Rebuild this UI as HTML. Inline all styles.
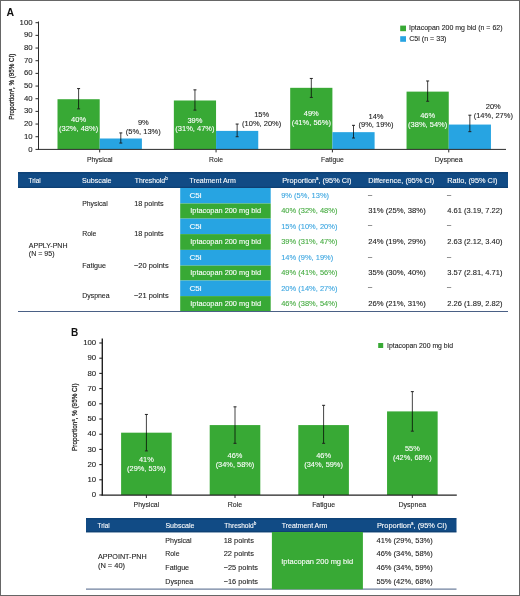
<!DOCTYPE html>
<html><head><meta charset="utf-8"><style>
html,body{margin:0;padding:0;background:#fff;}
svg{display:block;will-change:transform;font-family:"Liberation Sans",sans-serif;}
</style></head><body>
<svg width="520" height="596" viewBox="0 0 520 596">
<rect x="0.5" y="0.5" width="519" height="595" fill="#fff" stroke="#666" stroke-width="1"/>
<text x="6.4" y="15.5" font-size="10.5" font-weight="bold" fill="#111">A</text>
<line x1="35.50" y1="149.40" x2="38.50" y2="149.40" stroke="#2b2b2b" stroke-width="1"/>
<text x="32.60" y="151.50" font-size="7.8" fill="#222222" stroke="#222222" stroke-width="0.1" text-anchor="end" textLength="4.34" lengthAdjust="spacingAndGlyphs" >0</text>
<line x1="35.50" y1="136.73" x2="38.50" y2="136.73" stroke="#2b2b2b" stroke-width="1"/>
<text x="32.60" y="138.83" font-size="7.8" fill="#222222" stroke="#222222" stroke-width="0.1" text-anchor="end" textLength="8.68" lengthAdjust="spacingAndGlyphs" >10</text>
<line x1="35.50" y1="124.06" x2="38.50" y2="124.06" stroke="#2b2b2b" stroke-width="1"/>
<text x="32.60" y="126.16" font-size="7.8" fill="#222222" stroke="#222222" stroke-width="0.1" text-anchor="end" textLength="8.68" lengthAdjust="spacingAndGlyphs" >20</text>
<line x1="35.50" y1="111.39" x2="38.50" y2="111.39" stroke="#2b2b2b" stroke-width="1"/>
<text x="32.60" y="113.49" font-size="7.8" fill="#222222" stroke="#222222" stroke-width="0.1" text-anchor="end" textLength="8.68" lengthAdjust="spacingAndGlyphs" >30</text>
<line x1="35.50" y1="98.72" x2="38.50" y2="98.72" stroke="#2b2b2b" stroke-width="1"/>
<text x="32.60" y="100.82" font-size="7.8" fill="#222222" stroke="#222222" stroke-width="0.1" text-anchor="end" textLength="8.68" lengthAdjust="spacingAndGlyphs" >40</text>
<line x1="35.50" y1="86.05" x2="38.50" y2="86.05" stroke="#2b2b2b" stroke-width="1"/>
<text x="32.60" y="88.15" font-size="7.8" fill="#222222" stroke="#222222" stroke-width="0.1" text-anchor="end" textLength="8.68" lengthAdjust="spacingAndGlyphs" >50</text>
<line x1="35.50" y1="73.38" x2="38.50" y2="73.38" stroke="#2b2b2b" stroke-width="1"/>
<text x="32.60" y="75.48" font-size="7.8" fill="#222222" stroke="#222222" stroke-width="0.1" text-anchor="end" textLength="8.68" lengthAdjust="spacingAndGlyphs" >60</text>
<line x1="35.50" y1="60.71" x2="38.50" y2="60.71" stroke="#2b2b2b" stroke-width="1"/>
<text x="32.60" y="62.81" font-size="7.8" fill="#222222" stroke="#222222" stroke-width="0.1" text-anchor="end" textLength="8.68" lengthAdjust="spacingAndGlyphs" >70</text>
<line x1="35.50" y1="48.04" x2="38.50" y2="48.04" stroke="#2b2b2b" stroke-width="1"/>
<text x="32.60" y="50.14" font-size="7.8" fill="#222222" stroke="#222222" stroke-width="0.1" text-anchor="end" textLength="8.68" lengthAdjust="spacingAndGlyphs" >80</text>
<line x1="35.50" y1="35.37" x2="38.50" y2="35.37" stroke="#2b2b2b" stroke-width="1"/>
<text x="32.60" y="37.47" font-size="7.8" fill="#222222" stroke="#222222" stroke-width="0.1" text-anchor="end" textLength="8.68" lengthAdjust="spacingAndGlyphs" >90</text>
<line x1="35.50" y1="22.70" x2="38.50" y2="22.70" stroke="#2b2b2b" stroke-width="1"/>
<text x="32.60" y="24.80" font-size="7.8" fill="#222222" stroke="#222222" stroke-width="0.1" text-anchor="end" textLength="13.01" lengthAdjust="spacingAndGlyphs" >100</text>
<rect x="57.50" y="99.22" width="42.20" height="50.18" fill="#38a935"/>
<rect x="99.70" y="138.50" width="42.20" height="10.90" fill="#27a4e2"/>
<line x1="99.70" y1="149.40" x2="99.70" y2="152.40" stroke="#2b2b2b" stroke-width="1"/>
<text x="99.70" y="161.80" font-size="7.8" fill="#222222" stroke="#222222" stroke-width="0.1" text-anchor="middle" textLength="25.60" lengthAdjust="spacingAndGlyphs" >Physical</text>
<line x1="78.60" y1="88.58" x2="78.60" y2="108.86" stroke="rgba(0,0,0,0.78)" stroke-width="0.95"/>
<line x1="77.10" y1="88.58" x2="80.10" y2="88.58" stroke="#222" stroke-width="1"/>
<line x1="77.10" y1="108.86" x2="80.10" y2="108.86" stroke="#222" stroke-width="1"/>
<line x1="120.80" y1="132.93" x2="120.80" y2="143.06" stroke="rgba(0,0,0,0.78)" stroke-width="0.95"/>
<line x1="119.30" y1="132.93" x2="122.30" y2="132.93" stroke="#222" stroke-width="1"/>
<line x1="119.30" y1="143.06" x2="122.30" y2="143.06" stroke="#222" stroke-width="1"/>
<text x="78.60" y="122.00" font-size="7.5" fill="#fff" stroke="#fff" stroke-width="0.1" text-anchor="middle" textLength="15.01" lengthAdjust="spacingAndGlyphs" >40%</text>
<text x="78.60" y="130.80" font-size="7.5" fill="#fff" stroke="#fff" stroke-width="0.1" text-anchor="middle" textLength="39.18" lengthAdjust="spacingAndGlyphs" >(32%, 48%)</text>
<rect x="173.85" y="100.49" width="42.20" height="48.91" fill="#38a935"/>
<rect x="216.05" y="130.90" width="42.20" height="18.50" fill="#27a4e2"/>
<line x1="216.05" y1="149.40" x2="216.05" y2="152.40" stroke="#2b2b2b" stroke-width="1"/>
<text x="216.05" y="161.80" font-size="7.8" fill="#222222" stroke="#222222" stroke-width="0.1" text-anchor="middle" textLength="13.90" lengthAdjust="spacingAndGlyphs" >Role</text>
<line x1="194.95" y1="89.85" x2="194.95" y2="110.12" stroke="rgba(0,0,0,0.78)" stroke-width="0.95"/>
<line x1="193.45" y1="89.85" x2="196.45" y2="89.85" stroke="#222" stroke-width="1"/>
<line x1="193.45" y1="110.12" x2="196.45" y2="110.12" stroke="#222" stroke-width="1"/>
<line x1="237.15" y1="124.06" x2="237.15" y2="136.73" stroke="rgba(0,0,0,0.78)" stroke-width="0.95"/>
<line x1="235.65" y1="124.06" x2="238.65" y2="124.06" stroke="#222" stroke-width="1"/>
<line x1="235.65" y1="136.73" x2="238.65" y2="136.73" stroke="#222" stroke-width="1"/>
<text x="194.95" y="122.63" font-size="7.5" fill="#fff" stroke="#fff" stroke-width="0.1" text-anchor="middle" textLength="15.01" lengthAdjust="spacingAndGlyphs" >39%</text>
<text x="194.95" y="131.43" font-size="7.5" fill="#fff" stroke="#fff" stroke-width="0.1" text-anchor="middle" textLength="39.18" lengthAdjust="spacingAndGlyphs" >(31%, 47%)</text>
<rect x="290.20" y="87.82" width="42.20" height="61.58" fill="#38a935"/>
<rect x="332.40" y="132.16" width="42.20" height="17.24" fill="#27a4e2"/>
<line x1="332.40" y1="149.40" x2="332.40" y2="152.40" stroke="#2b2b2b" stroke-width="1"/>
<text x="332.40" y="161.80" font-size="7.8" fill="#222222" stroke="#222222" stroke-width="0.1" text-anchor="middle" textLength="22.70" lengthAdjust="spacingAndGlyphs" >Fatigue</text>
<line x1="311.30" y1="78.45" x2="311.30" y2="97.45" stroke="rgba(0,0,0,0.78)" stroke-width="0.95"/>
<line x1="309.80" y1="78.45" x2="312.80" y2="78.45" stroke="#222" stroke-width="1"/>
<line x1="309.80" y1="97.45" x2="312.80" y2="97.45" stroke="#222" stroke-width="1"/>
<line x1="353.50" y1="125.33" x2="353.50" y2="138.00" stroke="rgba(0,0,0,0.78)" stroke-width="0.95"/>
<line x1="352.00" y1="125.33" x2="355.00" y2="125.33" stroke="#222" stroke-width="1"/>
<line x1="352.00" y1="138.00" x2="355.00" y2="138.00" stroke="#222" stroke-width="1"/>
<text x="311.30" y="116.30" font-size="7.5" fill="#fff" stroke="#fff" stroke-width="0.1" text-anchor="middle" textLength="15.01" lengthAdjust="spacingAndGlyphs" >49%</text>
<text x="311.30" y="125.10" font-size="7.5" fill="#fff" stroke="#fff" stroke-width="0.1" text-anchor="middle" textLength="39.18" lengthAdjust="spacingAndGlyphs" >(41%, 56%)</text>
<rect x="406.55" y="91.62" width="42.20" height="57.78" fill="#38a935"/>
<rect x="448.75" y="124.56" width="42.20" height="24.84" fill="#27a4e2"/>
<line x1="448.75" y1="149.40" x2="448.75" y2="152.40" stroke="#2b2b2b" stroke-width="1"/>
<text x="448.75" y="161.80" font-size="7.8" fill="#222222" stroke="#222222" stroke-width="0.1" text-anchor="middle" textLength="28.10" lengthAdjust="spacingAndGlyphs" >Dyspnea</text>
<line x1="427.65" y1="80.98" x2="427.65" y2="101.25" stroke="rgba(0,0,0,0.78)" stroke-width="0.95"/>
<line x1="426.15" y1="80.98" x2="429.15" y2="80.98" stroke="#222" stroke-width="1"/>
<line x1="426.15" y1="101.25" x2="429.15" y2="101.25" stroke="#222" stroke-width="1"/>
<line x1="469.85" y1="115.19" x2="469.85" y2="131.66" stroke="rgba(0,0,0,0.78)" stroke-width="0.95"/>
<line x1="468.35" y1="115.19" x2="471.35" y2="115.19" stroke="#222" stroke-width="1"/>
<line x1="468.35" y1="131.66" x2="471.35" y2="131.66" stroke="#222" stroke-width="1"/>
<text x="427.65" y="118.20" font-size="7.5" fill="#fff" stroke="#fff" stroke-width="0.1" text-anchor="middle" textLength="15.01" lengthAdjust="spacingAndGlyphs" >46%</text>
<text x="427.65" y="127.00" font-size="7.5" fill="#fff" stroke="#fff" stroke-width="0.1" text-anchor="middle" textLength="39.18" lengthAdjust="spacingAndGlyphs" >(38%, 54%)</text>
<line x1="38.00" y1="149.40" x2="506.00" y2="149.40" stroke="#2b2b2b" stroke-width="1"/>
<line x1="38.50" y1="21.50" x2="38.50" y2="149.90" stroke="#2b2b2b" stroke-width="1"/>
<text x="143.30" y="125.14" font-size="7.5" fill="#222222" stroke="#222222" stroke-width="0.1" text-anchor="middle" textLength="10.84" lengthAdjust="spacingAndGlyphs" >9%</text>
<text x="143.30" y="133.84" font-size="7.5" fill="#222222" stroke="#222222" stroke-width="0.1" text-anchor="middle" textLength="35.01" lengthAdjust="spacingAndGlyphs" >(5%, 13%)</text>
<text x="261.70" y="116.54" font-size="7.5" fill="#222222" stroke="#222222" stroke-width="0.1" text-anchor="middle" textLength="15.01" lengthAdjust="spacingAndGlyphs" >15%</text>
<text x="261.70" y="125.54" font-size="7.5" fill="#222222" stroke="#222222" stroke-width="0.1" text-anchor="middle" textLength="39.18" lengthAdjust="spacingAndGlyphs" >(10%, 20%)</text>
<text x="376.00" y="118.54" font-size="7.5" fill="#222222" stroke="#222222" stroke-width="0.1" text-anchor="middle" textLength="15.01" lengthAdjust="spacingAndGlyphs" >14%</text>
<text x="376.00" y="127.44" font-size="7.5" fill="#222222" stroke="#222222" stroke-width="0.1" text-anchor="middle" textLength="35.01" lengthAdjust="spacingAndGlyphs" >(9%, 19%)</text>
<text x="493.30" y="108.94" font-size="7.5" fill="#222222" stroke="#222222" stroke-width="0.1" text-anchor="middle" textLength="15.01" lengthAdjust="spacingAndGlyphs" >20%</text>
<text x="493.30" y="118.14" font-size="7.5" fill="#222222" stroke="#222222" stroke-width="0.1" text-anchor="middle" textLength="39.18" lengthAdjust="spacingAndGlyphs" >(14%, 27%)</text>
<text transform="translate(14.1,86.7) rotate(-90)" font-size="7.7" fill="#222222" stroke="#222222" stroke-width="0.25" text-anchor="middle" textLength="66" lengthAdjust="spacingAndGlyphs">Proportion<tspan font-size="4.6" dy="-2.6">a</tspan><tspan dy="2.6">, % (95% CI)</tspan></text>
<rect x="400.20" y="25.60" width="5.80" height="5.60" fill="#38a935"/>
<rect x="400.20" y="36.20" width="5.80" height="5.60" fill="#27a4e2"/>
<text x="409.00" y="29.80" font-size="7.8" fill="#222222" stroke="#222222" stroke-width="0.1" textLength="93.50" lengthAdjust="spacingAndGlyphs" >Iptacopan 200 mg bid (n = 62)</text>
<text x="409.20" y="40.50" font-size="7.8" fill="#222222" stroke="#222222" stroke-width="0.1" textLength="37.30" lengthAdjust="spacingAndGlyphs" >C5i (n = 33)</text>
<rect x="18.00" y="172.00" width="490.00" height="16.00" fill="#114b85"/>
<line x1="18.00" y1="172.90" x2="508.00" y2="172.90" stroke="rgba(5,30,60,0.3)" stroke-width="1"/>
<line x1="18.00" y1="187.30" x2="508.00" y2="187.30" stroke="rgba(5,30,60,0.3)" stroke-width="1"/>
<text x="28.50" y="182.80" font-size="7.8" fill="#fff" stroke="#fff" stroke-width="0.1" textLength="12.10" lengthAdjust="spacingAndGlyphs" >Trial</text>
<text x="82.00" y="182.80" font-size="7.8" fill="#fff" stroke="#fff" stroke-width="0.1" textLength="29.50" lengthAdjust="spacingAndGlyphs" >Subscale</text>
<text x="134.7" y="182.8" font-size="7.8" fill="#fff" stroke="#fff" stroke-width="0.1"><tspan textLength="30.5" lengthAdjust="spacingAndGlyphs">Threshold</tspan><tspan font-size="4.6" dy="-2.6">b</tspan></text>
<text x="189.60" y="182.80" font-size="7.8" fill="#fff" stroke="#fff" stroke-width="0.1" textLength="46.20" lengthAdjust="spacingAndGlyphs" >Treatment Arm</text>
<text x="282.2" y="182.8" font-size="7.8" fill="#fff" stroke="#fff" stroke-width="0.1" textLength="69.3" lengthAdjust="spacingAndGlyphs">Proportion<tspan font-size="4.6" dy="-2.6">a</tspan><tspan dy="2.6">, (95% CI)</tspan></text>
<text x="368.20" y="182.80" font-size="7.8" fill="#fff" stroke="#fff" stroke-width="0.1" textLength="66.00" lengthAdjust="spacingAndGlyphs" >Difference, (95% CI)</text>
<text x="447.20" y="182.80" font-size="7.8" fill="#fff" stroke="#fff" stroke-width="0.1" textLength="50.20" lengthAdjust="spacingAndGlyphs" >Ratio, (95% CI)</text>
<rect x="180.20" y="188.00" width="90.50" height="15.50" fill="#27a4e2"/>
<rect x="180.20" y="203.50" width="90.50" height="15.10" fill="#38a935"/>
<text x="189.40" y="198.09" font-size="7.8" fill="#fff" stroke="#fff" stroke-width="0.1" textLength="12.20" lengthAdjust="spacingAndGlyphs" >C5i</text>
<text x="190.30" y="213.39" font-size="7.8" fill="#fff" stroke="#fff" stroke-width="0.1" textLength="70.80" lengthAdjust="spacingAndGlyphs" >Iptacopan 200 mg bid</text>
<text x="281.20" y="198.09" font-size="7.8" fill="#3aa5e0" stroke="#3aa5e0" stroke-width="0.1" textLength="47.86" lengthAdjust="spacingAndGlyphs" >9% (5%, 13%)</text>
<text x="281.20" y="213.39" font-size="7.8" fill="#45ab40" stroke="#45ab40" stroke-width="0.1" textLength="56.19" lengthAdjust="spacingAndGlyphs" >40% (32%, 48%)</text>
<rect x="180.20" y="218.60" width="90.50" height="15.50" fill="#27a4e2"/>
<rect x="180.20" y="234.10" width="90.50" height="15.80" fill="#38a935"/>
<text x="189.40" y="228.69" font-size="7.8" fill="#fff" stroke="#fff" stroke-width="0.1" textLength="12.20" lengthAdjust="spacingAndGlyphs" >C5i</text>
<text x="190.30" y="244.34" font-size="7.8" fill="#fff" stroke="#fff" stroke-width="0.1" textLength="70.80" lengthAdjust="spacingAndGlyphs" >Iptacopan 200 mg bid</text>
<text x="281.20" y="228.69" font-size="7.8" fill="#3aa5e0" stroke="#3aa5e0" stroke-width="0.1" textLength="56.19" lengthAdjust="spacingAndGlyphs" >15% (10%, 20%)</text>
<text x="281.20" y="244.34" font-size="7.8" fill="#45ab40" stroke="#45ab40" stroke-width="0.1" textLength="56.19" lengthAdjust="spacingAndGlyphs" >39% (31%, 47%)</text>
<rect x="180.20" y="249.90" width="90.50" height="15.70" fill="#27a4e2"/>
<rect x="180.20" y="265.60" width="90.50" height="14.90" fill="#38a935"/>
<text x="189.40" y="260.09" font-size="7.8" fill="#fff" stroke="#fff" stroke-width="0.1" textLength="12.20" lengthAdjust="spacingAndGlyphs" >C5i</text>
<text x="190.30" y="275.39" font-size="7.8" fill="#fff" stroke="#fff" stroke-width="0.1" textLength="70.80" lengthAdjust="spacingAndGlyphs" >Iptacopan 200 mg bid</text>
<text x="281.20" y="260.09" font-size="7.8" fill="#3aa5e0" stroke="#3aa5e0" stroke-width="0.1" textLength="52.02" lengthAdjust="spacingAndGlyphs" >14% (9%, 19%)</text>
<text x="281.20" y="275.39" font-size="7.8" fill="#45ab40" stroke="#45ab40" stroke-width="0.1" textLength="56.19" lengthAdjust="spacingAndGlyphs" >49% (41%, 56%)</text>
<rect x="180.20" y="280.50" width="90.50" height="15.60" fill="#27a4e2"/>
<rect x="180.20" y="296.10" width="90.50" height="15.30" fill="#38a935"/>
<text x="189.40" y="290.64" font-size="7.8" fill="#fff" stroke="#fff" stroke-width="0.1" textLength="12.20" lengthAdjust="spacingAndGlyphs" >C5i</text>
<text x="190.30" y="306.09" font-size="7.8" fill="#fff" stroke="#fff" stroke-width="0.1" textLength="70.80" lengthAdjust="spacingAndGlyphs" >Iptacopan 200 mg bid</text>
<text x="281.20" y="290.64" font-size="7.8" fill="#3aa5e0" stroke="#3aa5e0" stroke-width="0.1" textLength="56.19" lengthAdjust="spacingAndGlyphs" >20% (14%, 27%)</text>
<text x="281.20" y="306.09" font-size="7.8" fill="#45ab40" stroke="#45ab40" stroke-width="0.1" textLength="56.19" lengthAdjust="spacingAndGlyphs" >46% (38%, 54%)</text>
<text x="82.20" y="205.84" font-size="7.8" fill="#222222" stroke="#222222" stroke-width="0.1" textLength="25.50" lengthAdjust="spacingAndGlyphs" >Physical</text>
<text x="82.20" y="236.44" font-size="7.8" fill="#222222" stroke="#222222" stroke-width="0.1" textLength="14.20" lengthAdjust="spacingAndGlyphs" >Role</text>
<text x="82.20" y="267.94" font-size="7.8" fill="#222222" stroke="#222222" stroke-width="0.1" textLength="23.80" lengthAdjust="spacingAndGlyphs" >Fatigue</text>
<text x="82.20" y="298.44" font-size="7.8" fill="#222222" stroke="#222222" stroke-width="0.1" textLength="27.40" lengthAdjust="spacingAndGlyphs" >Dyspnea</text>
<text x="367.90" y="196.59" font-size="7.8" fill="#222222" stroke="#222222" stroke-width="0.1" textLength="4.12" lengthAdjust="spacingAndGlyphs" >&#8211;</text>
<text x="446.90" y="196.59" font-size="7.8" fill="#222222" stroke="#222222" stroke-width="0.1" textLength="4.12" lengthAdjust="spacingAndGlyphs" >&#8211;</text>
<text x="368.20" y="213.39" font-size="7.8" fill="#222222" stroke="#222222" stroke-width="0.1" textLength="57.50" lengthAdjust="spacingAndGlyphs" >31% (25%, 38%)</text>
<text x="447.20" y="213.39" font-size="7.8" fill="#222222" stroke="#222222" stroke-width="0.1" textLength="55.30" lengthAdjust="spacingAndGlyphs" >4.61 (3.19, 7.22)</text>
<text x="134.20" y="205.84" font-size="7.8" fill="#222222" stroke="#222222" stroke-width="0.1" textLength="29.50" lengthAdjust="spacingAndGlyphs" >18 points</text>
<text x="367.90" y="227.19" font-size="7.8" fill="#222222" stroke="#222222" stroke-width="0.1" textLength="4.12" lengthAdjust="spacingAndGlyphs" >&#8211;</text>
<text x="446.90" y="227.19" font-size="7.8" fill="#222222" stroke="#222222" stroke-width="0.1" textLength="4.12" lengthAdjust="spacingAndGlyphs" >&#8211;</text>
<text x="368.20" y="244.34" font-size="7.8" fill="#222222" stroke="#222222" stroke-width="0.1" textLength="57.50" lengthAdjust="spacingAndGlyphs" >24% (19%, 29%)</text>
<text x="447.20" y="244.34" font-size="7.8" fill="#222222" stroke="#222222" stroke-width="0.1" textLength="55.30" lengthAdjust="spacingAndGlyphs" >2.63 (2.12, 3.40)</text>
<text x="134.20" y="236.44" font-size="7.8" fill="#222222" stroke="#222222" stroke-width="0.1" textLength="29.50" lengthAdjust="spacingAndGlyphs" >18 points</text>
<text x="367.90" y="258.59" font-size="7.8" fill="#222222" stroke="#222222" stroke-width="0.1" textLength="4.12" lengthAdjust="spacingAndGlyphs" >&#8211;</text>
<text x="446.90" y="258.59" font-size="7.8" fill="#222222" stroke="#222222" stroke-width="0.1" textLength="4.12" lengthAdjust="spacingAndGlyphs" >&#8211;</text>
<text x="368.20" y="275.39" font-size="7.8" fill="#222222" stroke="#222222" stroke-width="0.1" textLength="57.50" lengthAdjust="spacingAndGlyphs" >35% (30%, 40%)</text>
<text x="447.20" y="275.39" font-size="7.8" fill="#222222" stroke="#222222" stroke-width="0.1" textLength="55.30" lengthAdjust="spacingAndGlyphs" >3.57 (2.81, 4.71)</text>
<text x="133.90" y="267.94" font-size="7.8" fill="#222222" stroke="#222222" stroke-width="0.1" textLength="34.80" lengthAdjust="spacingAndGlyphs" >&#8722;20 points</text>
<text x="367.90" y="289.14" font-size="7.8" fill="#222222" stroke="#222222" stroke-width="0.1" textLength="4.12" lengthAdjust="spacingAndGlyphs" >&#8211;</text>
<text x="446.90" y="289.14" font-size="7.8" fill="#222222" stroke="#222222" stroke-width="0.1" textLength="4.12" lengthAdjust="spacingAndGlyphs" >&#8211;</text>
<text x="368.20" y="306.09" font-size="7.8" fill="#222222" stroke="#222222" stroke-width="0.1" textLength="57.50" lengthAdjust="spacingAndGlyphs" >26% (21%, 31%)</text>
<text x="447.20" y="306.09" font-size="7.8" fill="#222222" stroke="#222222" stroke-width="0.1" textLength="55.30" lengthAdjust="spacingAndGlyphs" >2.26 (1.89, 2.82)</text>
<text x="133.90" y="298.44" font-size="7.8" fill="#222222" stroke="#222222" stroke-width="0.1" textLength="34.80" lengthAdjust="spacingAndGlyphs" >&#8722;21 points</text>
<text x="28.80" y="247.50" font-size="7.8" fill="#222222" stroke="#222222" stroke-width="0.1" textLength="38.70" lengthAdjust="spacingAndGlyphs" >APPLY-PNH</text>
<text x="28.80" y="256.30" font-size="7.8" fill="#222222" stroke="#222222" stroke-width="0.1" textLength="25.70" lengthAdjust="spacingAndGlyphs" >(N = 95)</text>
<line x1="18.00" y1="311.50" x2="508.00" y2="311.50" stroke="#4a6085" stroke-width="1"/>
<text x="70.9" y="335.9" font-size="10" font-weight="bold" fill="#111">B</text>
<line x1="99.30" y1="495.00" x2="102.30" y2="495.00" stroke="#222" stroke-width="1.1"/>
<text x="96.20" y="497.10" font-size="7.8" fill="#222222" stroke="#222222" stroke-width="0.1" text-anchor="end" textLength="4.34" lengthAdjust="spacingAndGlyphs" >0</text>
<line x1="99.30" y1="479.80" x2="102.30" y2="479.80" stroke="#222" stroke-width="1.1"/>
<text x="96.20" y="481.90" font-size="7.8" fill="#222222" stroke="#222222" stroke-width="0.1" text-anchor="end" textLength="8.68" lengthAdjust="spacingAndGlyphs" >10</text>
<line x1="99.30" y1="464.60" x2="102.30" y2="464.60" stroke="#222" stroke-width="1.1"/>
<text x="96.20" y="466.70" font-size="7.8" fill="#222222" stroke="#222222" stroke-width="0.1" text-anchor="end" textLength="8.68" lengthAdjust="spacingAndGlyphs" >20</text>
<line x1="99.30" y1="449.40" x2="102.30" y2="449.40" stroke="#222" stroke-width="1.1"/>
<text x="96.20" y="451.50" font-size="7.8" fill="#222222" stroke="#222222" stroke-width="0.1" text-anchor="end" textLength="8.68" lengthAdjust="spacingAndGlyphs" >30</text>
<line x1="99.30" y1="434.20" x2="102.30" y2="434.20" stroke="#222" stroke-width="1.1"/>
<text x="96.20" y="436.30" font-size="7.8" fill="#222222" stroke="#222222" stroke-width="0.1" text-anchor="end" textLength="8.68" lengthAdjust="spacingAndGlyphs" >40</text>
<line x1="99.30" y1="419.00" x2="102.30" y2="419.00" stroke="#222" stroke-width="1.1"/>
<text x="96.20" y="421.10" font-size="7.8" fill="#222222" stroke="#222222" stroke-width="0.1" text-anchor="end" textLength="8.68" lengthAdjust="spacingAndGlyphs" >50</text>
<line x1="99.30" y1="403.80" x2="102.30" y2="403.80" stroke="#222" stroke-width="1.1"/>
<text x="96.20" y="405.90" font-size="7.8" fill="#222222" stroke="#222222" stroke-width="0.1" text-anchor="end" textLength="8.68" lengthAdjust="spacingAndGlyphs" >60</text>
<line x1="99.30" y1="388.60" x2="102.30" y2="388.60" stroke="#222" stroke-width="1.1"/>
<text x="96.20" y="390.70" font-size="7.8" fill="#222222" stroke="#222222" stroke-width="0.1" text-anchor="end" textLength="8.68" lengthAdjust="spacingAndGlyphs" >70</text>
<line x1="99.30" y1="373.40" x2="102.30" y2="373.40" stroke="#222" stroke-width="1.1"/>
<text x="96.20" y="375.50" font-size="7.8" fill="#222222" stroke="#222222" stroke-width="0.1" text-anchor="end" textLength="8.68" lengthAdjust="spacingAndGlyphs" >80</text>
<line x1="99.30" y1="358.20" x2="102.30" y2="358.20" stroke="#222" stroke-width="1.1"/>
<text x="96.20" y="360.30" font-size="7.8" fill="#222222" stroke="#222222" stroke-width="0.1" text-anchor="end" textLength="8.68" lengthAdjust="spacingAndGlyphs" >90</text>
<line x1="99.30" y1="343.00" x2="102.30" y2="343.00" stroke="#222" stroke-width="1.1"/>
<text x="96.20" y="345.10" font-size="7.8" fill="#222222" stroke="#222222" stroke-width="0.1" text-anchor="end" textLength="13.01" lengthAdjust="spacingAndGlyphs" >100</text>
<rect x="121.10" y="432.68" width="50.60" height="62.32" fill="#38a935"/>
<line x1="146.40" y1="495.00" x2="146.40" y2="498.00" stroke="#2b2b2b" stroke-width="1"/>
<text x="146.40" y="506.90" font-size="7.8" fill="#222222" stroke="#222222" stroke-width="0.1" text-anchor="middle" textLength="25.60" lengthAdjust="spacingAndGlyphs" >Physical</text>
<line x1="146.40" y1="414.44" x2="146.40" y2="450.92" stroke="rgba(0,0,0,0.78)" stroke-width="0.95"/>
<line x1="144.90" y1="414.44" x2="147.90" y2="414.44" stroke="#222" stroke-width="1"/>
<line x1="144.90" y1="450.92" x2="147.90" y2="450.92" stroke="#222" stroke-width="1"/>
<text x="146.40" y="461.78" font-size="7.4" fill="#fff" stroke="#fff" stroke-width="0.1" text-anchor="middle" textLength="14.81" lengthAdjust="spacingAndGlyphs" >41%</text>
<text x="146.40" y="470.58" font-size="7.4" fill="#fff" stroke="#fff" stroke-width="0.1" text-anchor="middle" textLength="38.66" lengthAdjust="spacingAndGlyphs" >(29%, 53%)</text>
<rect x="209.70" y="425.08" width="50.60" height="69.92" fill="#38a935"/>
<line x1="235.00" y1="495.00" x2="235.00" y2="498.00" stroke="#2b2b2b" stroke-width="1"/>
<text x="235.00" y="506.90" font-size="7.8" fill="#222222" stroke="#222222" stroke-width="0.1" text-anchor="middle" textLength="14.30" lengthAdjust="spacingAndGlyphs" >Role</text>
<line x1="235.00" y1="406.84" x2="235.00" y2="443.32" stroke="rgba(0,0,0,0.78)" stroke-width="0.95"/>
<line x1="233.50" y1="406.84" x2="236.50" y2="406.84" stroke="#222" stroke-width="1"/>
<line x1="233.50" y1="443.32" x2="236.50" y2="443.32" stroke="#222" stroke-width="1"/>
<text x="235.00" y="457.98" font-size="7.4" fill="#fff" stroke="#fff" stroke-width="0.1" text-anchor="middle" textLength="14.81" lengthAdjust="spacingAndGlyphs" >46%</text>
<text x="235.00" y="466.78" font-size="7.4" fill="#fff" stroke="#fff" stroke-width="0.1" text-anchor="middle" textLength="38.66" lengthAdjust="spacingAndGlyphs" >(34%, 58%)</text>
<rect x="298.30" y="425.08" width="50.60" height="69.92" fill="#38a935"/>
<line x1="323.60" y1="495.00" x2="323.60" y2="498.00" stroke="#2b2b2b" stroke-width="1"/>
<text x="323.60" y="506.90" font-size="7.8" fill="#222222" stroke="#222222" stroke-width="0.1" text-anchor="middle" textLength="22.90" lengthAdjust="spacingAndGlyphs" >Fatigue</text>
<line x1="323.60" y1="405.32" x2="323.60" y2="443.32" stroke="rgba(0,0,0,0.78)" stroke-width="0.95"/>
<line x1="322.10" y1="405.32" x2="325.10" y2="405.32" stroke="#222" stroke-width="1"/>
<line x1="322.10" y1="443.32" x2="325.10" y2="443.32" stroke="#222" stroke-width="1"/>
<text x="323.60" y="457.98" font-size="7.4" fill="#fff" stroke="#fff" stroke-width="0.1" text-anchor="middle" textLength="14.81" lengthAdjust="spacingAndGlyphs" >46%</text>
<text x="323.60" y="466.78" font-size="7.4" fill="#fff" stroke="#fff" stroke-width="0.1" text-anchor="middle" textLength="38.66" lengthAdjust="spacingAndGlyphs" >(34%, 59%)</text>
<rect x="387.05" y="411.40" width="50.60" height="83.60" fill="#38a935"/>
<line x1="412.35" y1="495.00" x2="412.35" y2="498.00" stroke="#2b2b2b" stroke-width="1"/>
<text x="412.35" y="506.90" font-size="7.8" fill="#222222" stroke="#222222" stroke-width="0.1" text-anchor="middle" textLength="27.90" lengthAdjust="spacingAndGlyphs" >Dyspnea</text>
<line x1="412.35" y1="391.64" x2="412.35" y2="431.16" stroke="rgba(0,0,0,0.78)" stroke-width="0.95"/>
<line x1="410.85" y1="391.64" x2="413.85" y2="391.64" stroke="#222" stroke-width="1"/>
<line x1="410.85" y1="431.16" x2="413.85" y2="431.16" stroke="#222" stroke-width="1"/>
<text x="412.35" y="451.14" font-size="7.4" fill="#fff" stroke="#fff" stroke-width="0.1" text-anchor="middle" textLength="14.81" lengthAdjust="spacingAndGlyphs" >55%</text>
<text x="412.35" y="459.94" font-size="7.4" fill="#fff" stroke="#fff" stroke-width="0.1" text-anchor="middle" textLength="38.66" lengthAdjust="spacingAndGlyphs" >(42%, 68%)</text>
<line x1="101.60" y1="495.10" x2="456.80" y2="495.10" stroke="#222" stroke-width="1.4"/>
<line x1="102.30" y1="338.50" x2="102.30" y2="495.60" stroke="#222" stroke-width="1.4"/>
<text transform="translate(77.3,417.2) rotate(-90)" font-size="7.6" fill="#222222" stroke="#222222" stroke-width="0.25" text-anchor="middle" textLength="67.5" lengthAdjust="spacingAndGlyphs">Proportion<tspan font-size="4.6" dy="-2.6">a</tspan><tspan dy="2.6">, % (95% CI)</tspan></text>
<rect x="378.20" y="343.00" width="5.00" height="5.00" fill="#38a935"/>
<text x="387.00" y="347.64" font-size="7.8" fill="#222222" stroke="#222222" stroke-width="0.1" textLength="66.00" lengthAdjust="spacingAndGlyphs" >Iptacopan 200 mg bid</text>
<rect x="86.00" y="518.00" width="370.50" height="14.40" fill="#114b85"/>
<line x1="86.00" y1="518.90" x2="456.50" y2="518.90" stroke="rgba(5,30,60,0.3)" stroke-width="1"/>
<line x1="86.00" y1="531.80" x2="456.50" y2="531.80" stroke="rgba(5,30,60,0.3)" stroke-width="1"/>
<text x="97.60" y="527.64" font-size="7.8" fill="#fff" stroke="#fff" stroke-width="0.1" textLength="12.00" lengthAdjust="spacingAndGlyphs" >Trial</text>
<text x="165.40" y="527.64" font-size="7.8" fill="#fff" stroke="#fff" stroke-width="0.1" textLength="29.10" lengthAdjust="spacingAndGlyphs" >Subscale</text>
<text x="224.3" y="527.64" font-size="7.8" fill="#fff" stroke="#fff" stroke-width="0.1"><tspan textLength="29.4" lengthAdjust="spacingAndGlyphs">Threshold</tspan><tspan font-size="4.6" dy="-2.6">b</tspan></text>
<text x="281.80" y="527.64" font-size="7.8" fill="#fff" stroke="#fff" stroke-width="0.1" textLength="45.50" lengthAdjust="spacingAndGlyphs" >Treatment Arm</text>
<text x="376.9" y="527.64" font-size="7.8" fill="#fff" stroke="#fff" stroke-width="0.1" textLength="70" lengthAdjust="spacingAndGlyphs">Proportion<tspan font-size="4.6" dy="-2.6">a</tspan><tspan dy="2.6">, (95% CI)</tspan></text>
<line x1="86.00" y1="589.10" x2="456.50" y2="589.10" stroke="#4a6085" stroke-width="1"/>
<rect x="271.90" y="532.00" width="91.00" height="57.30" fill="#38a935"/>
<text x="281.20" y="563.54" font-size="7.8" fill="#fff" stroke="#fff" stroke-width="0.1" textLength="71.90" lengthAdjust="spacingAndGlyphs" >Iptacopan 200 mg bid</text>
<text x="165.30" y="542.64" font-size="7.8" fill="#222222" stroke="#222222" stroke-width="0.1" textLength="26.30" lengthAdjust="spacingAndGlyphs" >Physical</text>
<text x="223.70" y="542.64" font-size="7.8" fill="#222222" stroke="#222222" stroke-width="0.1" textLength="30.20" lengthAdjust="spacingAndGlyphs" >18 points</text>
<text x="376.50" y="542.64" font-size="7.8" fill="#222222" stroke="#222222" stroke-width="0.1" textLength="56.30" lengthAdjust="spacingAndGlyphs" >41% (29%, 53%)</text>
<text x="165.30" y="556.14" font-size="7.8" fill="#222222" stroke="#222222" stroke-width="0.1" textLength="14.20" lengthAdjust="spacingAndGlyphs" >Role</text>
<text x="223.70" y="556.14" font-size="7.8" fill="#222222" stroke="#222222" stroke-width="0.1" textLength="30.20" lengthAdjust="spacingAndGlyphs" >22 points</text>
<text x="376.50" y="556.14" font-size="7.8" fill="#222222" stroke="#222222" stroke-width="0.1" textLength="56.30" lengthAdjust="spacingAndGlyphs" >46% (34%, 58%)</text>
<text x="165.30" y="569.94" font-size="7.8" fill="#222222" stroke="#222222" stroke-width="0.1" textLength="23.80" lengthAdjust="spacingAndGlyphs" >Fatigue</text>
<text x="223.70" y="569.94" font-size="7.8" fill="#222222" stroke="#222222" stroke-width="0.1" textLength="34.20" lengthAdjust="spacingAndGlyphs" >&#8722;25 points</text>
<text x="376.50" y="569.94" font-size="7.8" fill="#222222" stroke="#222222" stroke-width="0.1" textLength="56.30" lengthAdjust="spacingAndGlyphs" >46% (34%, 59%)</text>
<text x="165.30" y="583.74" font-size="7.8" fill="#222222" stroke="#222222" stroke-width="0.1" textLength="27.90" lengthAdjust="spacingAndGlyphs" >Dyspnea</text>
<text x="223.70" y="583.74" font-size="7.8" fill="#222222" stroke="#222222" stroke-width="0.1" textLength="34.20" lengthAdjust="spacingAndGlyphs" >&#8722;16 points</text>
<text x="376.50" y="583.74" font-size="7.8" fill="#222222" stroke="#222222" stroke-width="0.1" textLength="56.30" lengthAdjust="spacingAndGlyphs" >55% (42%, 68%)</text>
<text x="97.90" y="558.70" font-size="7.8" fill="#222222" stroke="#222222" stroke-width="0.1" textLength="48.80" lengthAdjust="spacingAndGlyphs" >APPOINT-PNH</text>
<text x="97.90" y="567.50" font-size="7.8" fill="#222222" stroke="#222222" stroke-width="0.1" textLength="27.20" lengthAdjust="spacingAndGlyphs" >(N = 40)</text>
</svg>
</body></html>
